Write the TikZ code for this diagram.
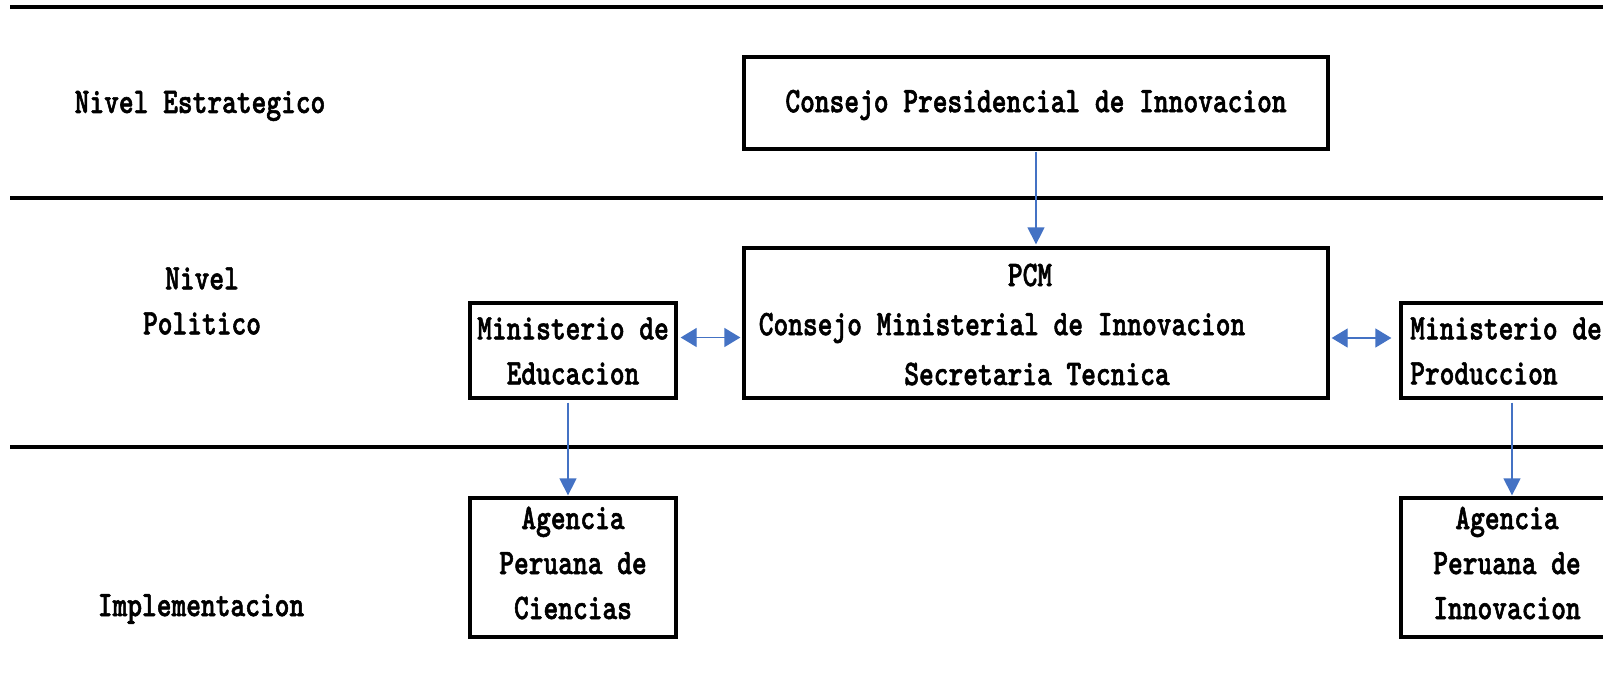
\documentclass[tikz,border=0pt]{standalone}
\usepackage{fontspec}
\usetikzlibrary{arrows.meta}
\newfontfamily\twf{lmmonolt10-bold.otf}[FakeStretch=0.78,FakeBold=1.5]
\definecolor{arrowblue}{HTML}{4472C4}
\begin{document}
\begin{tikzpicture}[x=1pt,y=-1pt,
  txt/.style={font=\twf\fontsize{36}{45}\selectfont, inner sep=0pt, align=center},
  box/.style={draw, line width=3.3pt, inner sep=0pt},
  rule/.style={line width=4pt},
  conn/.style={draw=arrowblue, line width=1.3pt, -{Triangle[length=17pt,width=17pt]}},
  biconn/.style={draw=arrowblue, line width=1.3pt, {Triangle[length=16pt,width=19pt]}-{Triangle[length=16pt,width=19pt]}}]
\useasboundingbox (0,0) rectangle (1603,683);
\clip (0,0) rectangle (1603,683);
\fill[white] (0,0) rectangle (1603,683);
% horizontal rules
\draw[rule] (10,7) -- (1610,7);
\draw[rule] (10,198) -- (1610,198);
\draw[rule] (10,447) -- (1610,447);
% level labels
\node[txt] (lvlA) at (200,106) {Nivel Estrategico};
\node[txt] (lvlB) at (202,301) {Nivel\\Politico};
\node[txt] (lvlC) at (201,609) {Implementacion};
% boxes
\node[box, minimum width=584pt, minimum height=92pt] (pres) at (1036,103) {};
\node[txt] (presT) at (1036,105) {Consejo Presidencial de Innovacion};
\node[box, minimum width=584pt, minimum height=150pt] (pcm) at (1036,323) {};
\node[txt] (pcmA) at (1030,275) {PCM};
\node[txt] (pcmB) at (1002,328) {Consejo Ministerial de Innovacion};
\node[txt] (pcmC) at (1037,374) {Secretaria Tecnica};
\node[box, minimum width=206pt, minimum height=95pt] (edu) at (573,350.5) {};
\node[txt] (eduT) at (573,351) {Ministerio de\\Educacion};
\node[box, minimum width=219pt, minimum height=95pt] (prod) at (1510.5,350.5) {};
\node[txt, anchor=west, align=left] (prodT) at (1410,351) {Ministerio de\\Produccion};
\node[box, minimum width=206pt, minimum height=139pt] (cien) at (573,567.5) {};
\node[txt] (cienT) at (573,563) {Agencia\\Peruana de\\Ciencias};
\node[box, minimum width=219pt, minimum height=139pt] (inno) at (1510.5,567.5) {};
\node[txt] (innoT) at (1507,563) {Agencia\\Peruana de\\Innovacion};
% connectors
\draw[conn, shorten <=1pt, shorten >=2pt] (pres.south) -- (pcm.north);
\draw[conn, shorten <=3pt, shorten >=1pt] ([xshift=-5pt]edu.south) -- ([xshift=-5pt]edu.south |- cien.north);
\draw[conn, shorten <=3pt, shorten >=1pt] ([xshift=1.5pt]prod.south) -- ([xshift=1.5pt]prod.south |- inno.north);
\draw[biconn, shorten <=3pt, shorten >=2pt] ([yshift=13pt]edu.east) -- ([yshift=13pt]edu.east -| pcm.west);
\draw[biconn, shorten <=2pt, shorten >=8pt] ([yshift=12.5pt]prod.west -| pcm.east) -- ([yshift=12.5pt]prod.west);
\end{tikzpicture}
\end{document}
